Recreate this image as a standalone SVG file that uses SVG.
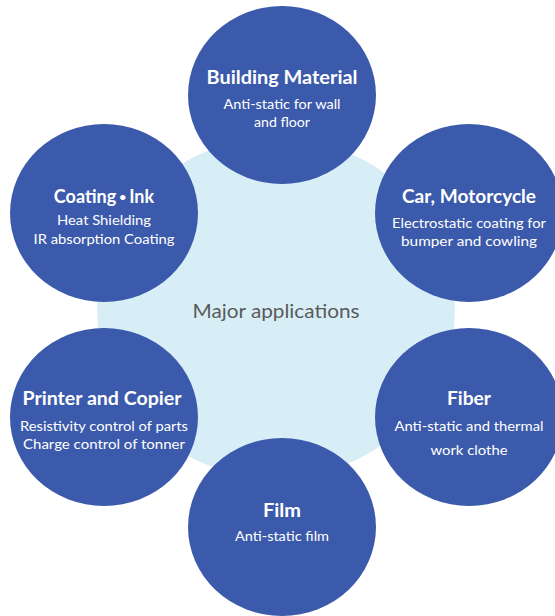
<svg xmlns="http://www.w3.org/2000/svg" width="555" height="616" viewBox="0 0 555 616">
  <style>
    .hub { fill: #d7eef7; }
    .app { fill: #3b5aab; }
    .title { font-family: Lato, "Liberation Sans", sans-serif; font-weight: bold; font-size: 18px; fill: #ffffff; text-anchor: middle; }
    .desc { font-family: Lato, "Liberation Sans", sans-serif; font-size: 13.5px; fill: #ffffff; text-anchor: middle; }
    .center { font-family: Lato, "Liberation Sans", sans-serif; font-size: 19px; fill: #5a5a5a; text-anchor: middle; }
    .dot { font-size: 12px; }
  </style>
  <rect width="555" height="616" fill="#ffffff"/>

  <!-- central hub -->
  <g id="hub">
    <ellipse class="hub" cx="276" cy="308" rx="179" ry="170"/>
    <text class="center" x="276" y="318" textLength="167" lengthAdjust="spacingAndGlyphs">Major applications</text>
  </g>

  <!-- connectors: none drawn, the applications sit directly on the hub -->
  <g id="connectors"/>

  <g id="building-material">
    <ellipse class="app" cx="282" cy="95" rx="94" ry="89"/>
    <text class="title" x="282" y="84" textLength="151" lengthAdjust="spacingAndGlyphs">Building Material</text>
    <text class="desc" x="282" y="109" textLength="117" lengthAdjust="spacingAndGlyphs">Anti-static for wall</text>
    <text class="desc" x="282" y="127" textLength="56" lengthAdjust="spacingAndGlyphs">and floor</text>
  </g>

  <g id="coating-ink">
    <ellipse class="app" cx="104" cy="213" rx="94" ry="89"/>
    <text class="title" x="104" y="203">Coating<tspan class="dot" dx="3" dy="-2">•</tspan><tspan dx="3" dy="2">Ink</tspan></text>
    <text class="desc" x="104" y="225" textLength="94" lengthAdjust="spacingAndGlyphs">Heat Shielding</text>
    <text class="desc" x="104" y="244" textLength="141" lengthAdjust="spacingAndGlyphs">IR absorption Coating</text>
  </g>

  <g id="car-motorcycle">
    <ellipse class="app" cx="469" cy="213" rx="94" ry="89"/>
    <text class="title" x="469" y="203" textLength="134" lengthAdjust="spacingAndGlyphs">Car, Motorcycle</text>
    <text class="desc" x="469" y="228" textLength="154" lengthAdjust="spacingAndGlyphs">Electrostatic coating for</text>
    <text class="desc" x="469" y="246" textLength="136" lengthAdjust="spacingAndGlyphs">bumper and cowling</text>
  </g>

  <g id="printer-copier">
    <ellipse class="app" cx="104" cy="417" rx="94" ry="89"/>
    <text class="title" x="102" y="405" textLength="159" lengthAdjust="spacingAndGlyphs">Printer and Copier</text>
    <text class="desc" x="104" y="431" textLength="168" lengthAdjust="spacingAndGlyphs">Resistivity control of parts</text>
    <text class="desc" x="104" y="449" textLength="162" lengthAdjust="spacingAndGlyphs">Charge control of tonner</text>
  </g>

  <g id="fiber">
    <ellipse class="app" cx="469" cy="417" rx="94" ry="89"/>
    <text class="title" x="469" y="405" textLength="44" lengthAdjust="spacingAndGlyphs">Fiber</text>
    <text class="desc" x="469" y="431" textLength="149" lengthAdjust="spacingAndGlyphs">Anti-static and thermal</text>
    <text class="desc" x="469" y="455" textLength="77" lengthAdjust="spacingAndGlyphs">work clothe</text>
  </g>

  <g id="film">
    <ellipse class="app" cx="282" cy="527" rx="94" ry="89"/>
    <text class="title" x="282" y="517" textLength="38" lengthAdjust="spacingAndGlyphs">Film</text>
    <text class="desc" x="282" y="541" textLength="94" lengthAdjust="spacingAndGlyphs">Anti-static film</text>
  </g>
</svg>
